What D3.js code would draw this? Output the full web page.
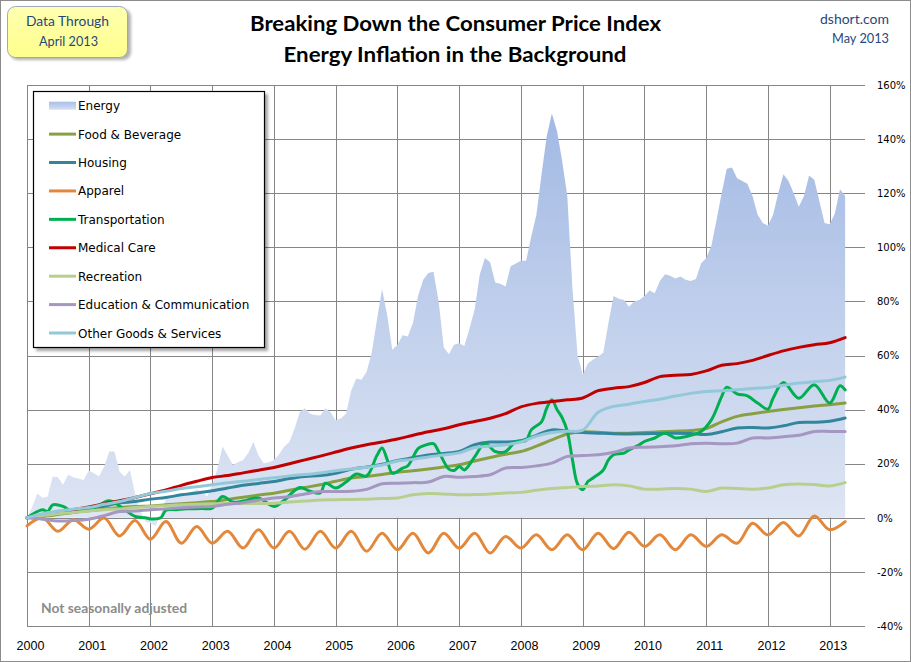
<!DOCTYPE html>
<html><head><meta charset="utf-8">
<script src="https://cdn.jsdelivr.net/npm/d3@7"></script>
<style>
html,body{margin:0;padding:0;background:#fff;}
svg{display:block;}
</style></head>
<body>
<svg id="chart" width="911" height="662"></svg>
<script>
// ---------------- DATA ----------------
// Months since Jan 2000 (0 = Jan 2000, 159 = Apr 2013)
const yearLabels = ["2000","2001","2002","2003","2004","2005","2006","2007","2008","2009","2010","2011","2012","2013"];
const yTicks = [-40,-20,0,20,40,60,80,100,120,140,160];

// Energy, monthly, cumulative % change since Jan 2000
const energy = [
 0,4,9,7.4,7.8,15.3,15,12.2,15.9,15,14.5,14,
 17.5,16.5,15.3,19,24.5,24.5,17,15.3,17.7,9,3,-1.5,
 -2,-3,1.5,7,8,7.5,8.5,9,9.5,10.5,9.5,8,
 12,18,26.4,23,19.6,20.5,21.4,24,28,23,20.2,20.5,
 21.4,23.5,26.4,28,33,39,40.5,38.5,38,37.8,40.5,39,
 36,36.8,38.5,47,51.5,51,54,61,73,84.5,75,62,
 64,67.5,67,72,82,88,90.5,91,80,63,60.5,64,
 64.5,63.5,70,77,90,96,94.5,87,86.5,85.5,93,94,
 95,95,104,112,127,141,149.5,143,132,119,85,60,
 53,57,58.5,59.6,61,72,82,81,80.5,78,80,80.5,
 82,84,83,87.5,90,89.5,88.5,89.2,88,87.5,88.3,94,
 96,100.5,110,120,129,129.5,125.5,124.5,123.5,119,112,109,
 108,112,120,127,124.5,120,115,119,126.5,125,117,109,
 108.5,112.5,121.5,119
];

// Quarterly series: values at months 0,3,6,...,159 (Jan/Apr/Jul/Oct)
const quarterMonths = d3.range(0, 160, 3);
const foodBeverage = [0,0.5,1.2,2,2.6,3.2,3.8,4.2,4.4,4.8,5.2,5.6,6,6.8,7.6,8.4,9.1,10.2,11.2,12.2,13.5,14.7,15.3,16,16.8,17.4,18,18.8,19.6,21,22.3,23.5,24.5,26.5,28.8,31,31.8,31.6,31.3,31.3,31.5,31.8,32,32.3,33,35.5,37.5,38.5,39.3,40,40.7,41.3,41.8,42.4];
const housing = [0,1,2,2.8,3.6,4.3,5.5,6,6.9,7.5,8.5,9.2,10,11,12,12.7,13.4,14.5,15.3,15.6,16.5,17.9,18.8,19.8,21.2,22.2,23.2,23.8,24.5,27,28,28,28.5,30.5,32.5,32,31.5,31.3,31.1,31,31.1,31.2,31.3,31.2,30.8,31.8,33.2,33.4,33.2,34,35.2,35.3,35.7,36.9];
const apparel = [-3,0,-5,-0.7,-4.2,-0.1,-6.7,-1,-7.9,-1.4,-9.4,-3.2,-9.4,-5,-11.2,-4.4,-11.2,-5,-11.6,-5,-11.2,-5,-12.4,-5.7,-11.8,-5.7,-13,-5.7,-11.2,-5.7,-13,-6.9,-11.2,-6.3,-11.8,-6.3,-11.8,-5.7,-11.4,-5.3,-10.6,-6.3,-11.8,-6.3,-10.6,-6.3,-9.4,-2,-6.3,-1.7,-6.7,0.7,-4.4,-1.4];
const medicalCare = [0,1,2,3,4,5.2,6.3,7.5,8.9,10.3,12,13.5,14.9,15.6,16.6,17.6,18.6,20,21.4,22.8,24.3,25.8,27,28,29.1,30.5,31.8,32.9,34.4,35.6,36.8,38.5,41,42.3,43,43.6,44.3,47,47.9,48.5,50,52.2,52.7,53,54.3,56.4,57,58.2,60,61.7,63,64,64.7,66.6];
const recreation = [0,0.8,1.5,2,2.5,3,3.3,3.8,4.2,4.5,4.8,5,5.2,5.3,5.3,5.3,5.4,5.8,6.2,6.6,6.7,6.8,6.9,7.1,7.3,8.5,9,8.8,8.5,8.6,8.8,9.2,9.4,10.2,10.8,11.2,11.6,11.8,12.2,11.8,10.6,10.6,10.8,10.6,9.7,11,10.8,10.6,11,12.2,12.5,12.3,11.8,13];
const educationComm = [0,-0.5,-1.2,-1,-0.5,0.8,2.3,2.5,3,3.3,3.7,4,4.2,5,5.6,6.5,7.3,7.8,8.8,9.7,9.7,9.8,10.5,12.6,12.8,13,13.2,15.3,15,15.3,15.9,18.4,18.6,19.2,20.2,22.7,23,23.3,24.2,25.8,26.1,26.3,26.6,27.4,27.6,27.4,27.6,29.5,29.5,30,30.5,31.9,31.9,31.9];
const otherGoods = [0,1.5,2.5,3.2,3.8,5,6,7.5,9,9.8,10.8,11.5,12.2,13,13.5,14.2,14.8,15.5,16,16.6,17.4,18,18.7,19.5,21,21.6,22.5,23.2,24,26,26.5,27,28,30.2,31.5,32,32.4,39,41.2,42,43,43.8,45,46,46.7,47,47.3,47.8,48.2,49,49.8,50.3,50.8,52];

// Transportation, read at irregular months
const transportMonths = [0,3,4,5,7,9,11,13,16,19,21,23,24,26,27,29,31,34,36,38,40,42,45,48,50,53,55,57,58,60,62,64,66,68,69,70,71,73,74,76,77,79,80,82,83,84,85,87,89,91,93,95,97,98,100,101,102,103,104,105,106,107,108,109,110,112,113,114,116,117,119,120,122,124,126,128,131,133,135,136,138,140,142,144,145,147,150,153,156,158,159];
const transportValues = [0,3,2.3,4.8,4.2,2,3,3.6,6.3,3,0.5,0,-0.4,0,2.8,3,3.3,3.4,3.6,7.9,5.8,6.2,7.3,4.2,6.5,11.2,9.8,9.2,12.8,11,13.2,16.2,15.5,23,25.8,21.5,16.5,18.4,19.2,25.6,26.6,27.4,24.5,18,17.5,19,17.7,22.5,27.6,24.5,24.5,28.2,28.6,32.5,35.5,40.5,43.6,40,37,32,21.5,12.5,10.4,13.4,14.7,17.7,21.4,23.3,23.9,25.1,27,28.2,29.5,31.3,29.5,30,31.9,36.2,44.8,48.3,45.8,45.1,42.4,40.2,44.2,50,44.2,49.2,42.4,48.8,47.3];

const seriesNames = ["Energy","Food & Beverage","Housing","Apparel","Transportation","Medical Care","Recreation","Education & Communication","Other Goods & Services"];
const seriesColors = ["#B4C6EA","#88A043","#31859C","#E3883A","#00B050","#C00000","#B7CF8E","#A597C0","#93C8D9"];

// ---------------- LAYOUT ----------------
const svg = d3.select("#chart");
const plotLeft = 27, plotTop = 85, plotBottom = 626, gridRight = 865;
const x = d3.scaleLinear().domain([0, 156]).range([plotLeft, 829.7]);
const y = d3.scaleLinear().domain([-40, 160]).range([plotBottom, plotTop]);

const defs = svg.append("defs");
const grad = defs.append("linearGradient").attr("id","energyGrad")
  .attr("gradientUnits","userSpaceOnUse").attr("x1",0).attr("x2",0)
  .attr("y1", y(150)).attr("y2", y(0));
grad.append("stop").attr("offset","0%").attr("stop-color","#A2B9E4");
grad.append("stop").attr("offset","100%").attr("stop-color","#DEE5F3");
const legGrad = defs.append("linearGradient").attr("id","legGrad").attr("x1",0).attr("x2",0).attr("y1",0).attr("y2",1);
legGrad.append("stop").attr("offset","0%").attr("stop-color","#A9BEE7");
legGrad.append("stop").attr("offset","100%").attr("stop-color","#D6DFF2");
const yellowGrad = defs.append("linearGradient").attr("id","yellowGrad").attr("x1",0).attr("x2",0).attr("y1",0).attr("y2",1);
yellowGrad.append("stop").attr("offset","0%").attr("stop-color","#FFFFB0");
yellowGrad.append("stop").attr("offset","100%").attr("stop-color","#FFFF8C");
const blur = defs.append("filter").attr("id","shadow").attr("x","-10%").attr("y","-10%").attr("width","130%").attr("height","130%");
blur.append("feGaussianBlur").attr("stdDeviation",1.5);

// background + chart border
svg.append("rect").attr("x",0.5).attr("y",0.5).attr("width",910).attr("height",661)
  .attr("fill","#fff").attr("stroke","#8c8c8c").attr("stroke-width",1);

// grid via axes
const gy = svg.append("g").attr("transform",`translate(${plotLeft},0)`)
  .call(d3.axisRight(y).tickValues(yTicks).tickSize(gridRight - plotLeft).tickPadding(12).tickFormat(d => d + "%"));
gy.select(".domain").remove();
gy.selectAll("line").attr("stroke","#868686").attr("shape-rendering","crispEdges");
gy.selectAll("text").attr("font-family","'DejaVu Sans', Verdana, sans-serif").attr("font-size","10px").attr("fill","#000");

const gx = svg.append("g").attr("transform",`translate(0,${plotBottom})`)
  .call(d3.axisBottom(x).tickValues(d3.range(0, 157, 12)).tickSize(-(plotBottom - plotTop)).tickPadding(15)
    .tickFormat((d,i) => yearLabels[i]));
gx.select(".domain").remove();
gx.selectAll("line").attr("stroke","#868686").attr("shape-rendering","crispEdges");
gx.selectAll("text").attr("font-family","'Liberation Sans Narrow','Liberation Sans', Arial, sans-serif").attr("font-size","12.5px").attr("fill","#000").attr("dx","3");

// energy area
const energyData = energy.map((v,i) => [i, v]);
svg.append("path").datum(energyData)
  .attr("fill","url(#energyGrad)")
  .attr("d", d3.area().x(d => x(d[0])).y0(y(0)).y1(d => y(d[1])));

// lines
const lineGen = d3.line().x(d => x(d[0])).y(d => y(d[1])).curve(d3.curveCatmullRom.alpha(0.5));
const q = arr => arr.map((v,i) => [quarterMonths[i], v]).filter(d => d[0] !== undefined);
const lineSeries = [
  {data: q(foodBeverage), color: seriesColors[1]},
  {data: q(housing), color: seriesColors[2]},
  {data: q(apparel), color: seriesColors[3]},
  {data: transportValues.map((v,i) => [transportMonths[i], v]), color: seriesColors[4]},
  {data: q(medicalCare), color: seriesColors[5]},
  {data: q(recreation), color: seriesColors[6]},
  {data: q(educationComm), color: seriesColors[7]},
  {data: q(otherGoods), color: seriesColors[8]}
];
lineSeries.forEach(s => {
  svg.append("path").datum(s.data).attr("fill","none").attr("stroke", s.color)
    .attr("stroke-width",3).attr("stroke-linejoin","round").attr("stroke-linecap","round")
    .attr("d", lineGen);
});

// legend
const lg = svg.append("g");
lg.append("rect").attr("x",36).attr("y",94).attr("width",232).attr("height",257).attr("fill","#000").attr("opacity",0.35).attr("filter","url(#shadow)");
lg.append("rect").attr("x",33.5).attr("y",91.5).attr("width",231).attr("height",256).attr("fill","#fff").attr("stroke","#000").attr("stroke-width",1.2);
const legY = d3.scalePoint().domain(seriesNames).range([105.7, 333]);
seriesNames.forEach((name,i) => {
  const cy = legY(name);
  if (i === 0) {
    lg.append("rect").attr("x",49).attr("y",cy-4).attr("width",27).attr("height",8).attr("fill","url(#legGrad)");
  } else {
    lg.append("line").attr("x1",49).attr("x2",76).attr("y1",cy).attr("y2",cy).attr("stroke",seriesColors[i]).attr("stroke-width",3);
  }
  lg.append("text").attr("x",78).attr("y",cy+4.5).text(name)
    .attr("font-family","'DejaVu Sans', Verdana, sans-serif").attr("font-size","12px").attr("fill","#000");
});

// yellow note box
svg.append("rect").attr("x",10).attr("y",9).attr("width",121).attr("height",51).attr("rx",8)
  .attr("fill","#000").attr("opacity",0.3).attr("filter","url(#shadow)");
svg.append("rect").attr("x",7.5).attr("y",6.5).attr("width",120).attr("height",51).attr("rx",8)
  .attr("fill","url(#yellowGrad)").attr("stroke","#9BA9BC").attr("stroke-width",1);
const noteFont = "Lato, 'Open Sans', sans-serif";
svg.append("text").attr("x",67.5).attr("y",26).attr("text-anchor","middle").attr("font-family",noteFont)
  .attr("font-size","13px").attr("fill","#1F497D").attr("textLength",83).attr("lengthAdjust","spacingAndGlyphs").text("Data Through");
svg.append("text").attr("x",68.5).attr("y",46).attr("text-anchor","middle").attr("font-family",noteFont)
  .attr("font-size","13px").attr("fill","#1F497D").attr("textLength",59).attr("lengthAdjust","spacingAndGlyphs").text("April 2013");

// title
svg.append("text").attr("x",455.5).attr("y",31).attr("text-anchor","middle").attr("font-family",noteFont)
  .attr("font-weight","bold").attr("font-size","21px").attr("fill","#000")
  .attr("textLength",411).attr("lengthAdjust","spacingAndGlyphs").text("Breaking Down the Consumer Price Index");
svg.append("text").attr("x",455).attr("y",62).attr("text-anchor","middle").attr("font-family",noteFont)
  .attr("font-weight","bold").attr("font-size","21px").attr("fill","#000")
  .attr("textLength",343).attr("lengthAdjust","spacingAndGlyphs").text("Energy Inflation in the Background");

// source
svg.append("text").attr("x",889).attr("y",24).attr("text-anchor","end").attr("font-family",noteFont)
  .attr("font-size","13px").attr("fill","#1F497D").attr("textLength",69).attr("lengthAdjust","spacingAndGlyphs").text("dshort.com");
svg.append("text").attr("x",889).attr("y",43).attr("text-anchor","end").attr("font-family",noteFont)
  .attr("font-size","13px").attr("fill","#1F497D").attr("textLength",57).attr("lengthAdjust","spacingAndGlyphs").text("May 2013");

// footnote
svg.append("text").attr("x",41).attr("y",613).attr("font-family",noteFont)
  .attr("font-weight","bold").attr("font-size","13px").attr("fill","#8C8C8C")
  .attr("textLength",146).attr("lengthAdjust","spacingAndGlyphs").text("Not seasonally adjusted");
</script>
</body></html>
